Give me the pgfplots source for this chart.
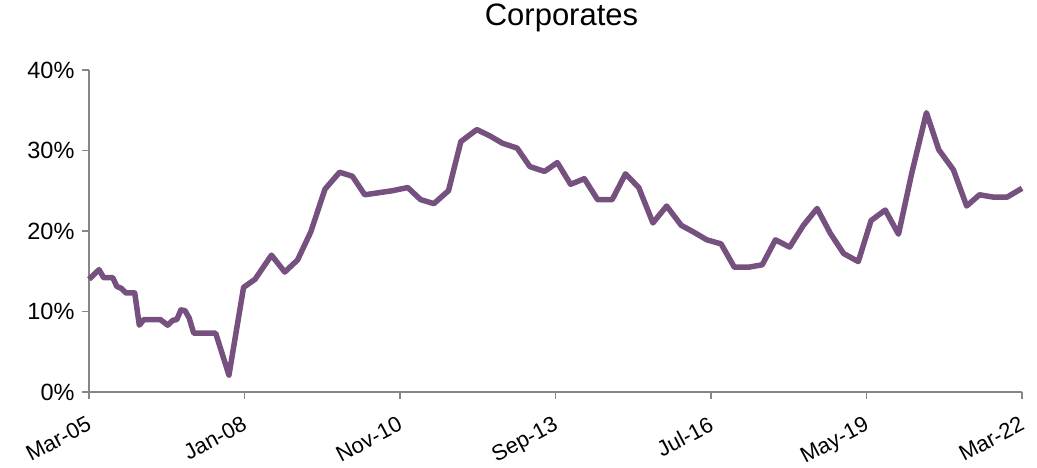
\documentclass[border=0pt]{standalone}
\usepackage{pgfplots}
\pgfplotsset{compat=1.18}
\usepackage{fontspec}
\setmainfont{Liberation Sans}
\definecolor{lineP}{RGB}{118,81,128}
\definecolor{axG}{RGB}{134,134,134}
\begin{document}
\begin{tikzpicture}
\begin{axis}[name=ax, scale only axis, width=933pt, height=322pt,
 xmin=0, xmax=204, ymin=0, ymax=40,
 axis x line=bottom, axis y line=left,
 axis line style={-, draw=axG, line width=1.6pt},
 tick style={draw=axG, line width=1.4pt}, tick align=outside, major tick length=7pt,
 xtick={0,34,68,102,136,170,204},
 xticklabels={Mar-05,Jan-08,Nov-10,Sep-13,Jul-16,May-19,Mar-22},
 ytick={0,10,20,30,40}, yticklabels={0\%,10\%,20\%,30\%,40\%},
 ticklabel style={font=\fontsize{23.5}{25}\selectfont, text=black},
 yticklabel style={xshift=-4pt},
 xticklabel style={font=\fontsize{22}{24}\selectfont, anchor=north east, inner sep=1pt, xshift=-3pt, yshift=-15pt, rotate=28},
 title={Corporates},
 title style={font=\fontsize{31}{34}\selectfont, at={(0.5,1)}, anchor=base, yshift=38pt, xshift=6pt},
 clip=false]
\addplot[lineP, line width=5.5pt, line join=round] coordinates {
(0,14.0) (2.2,15.2) (3.2,14.2) (5.2,14.2) (6.1,13.1) (7,12.9) (8.1,12.3) (10,12.3)
(11,8.3) (12,9.0) (15.6,9.0) (17.2,8.3) (18.3,8.9) (19.2,9.0) (20.1,10.2) (21,10.1)
(21.9,9.2) (22.9,7.3) (27.7,7.3) (30.6,2.1) (33.8,13.0) (36.3,14.0) (39.9,17.0)
(42.8,14.9) (45.6,16.4) (48.5,19.9) (51.6,25.2) (54.8,27.3) (57.6,26.8) (60.3,24.5)
(66.3,25.0) (69.7,25.4) (72.5,23.9) (75.4,23.4) (78.6,25.0) (81.3,31.1) (84.8,32.6)
(87.7,31.8) (90.4,30.9) (93.6,30.3) (96.4,28.0) (99.6,27.4) (102.4,28.5) (105.3,25.8)
(108.3,26.5) (111.2,23.9) (114.4,23.9) (117.3,27.1) (120.2,25.4) (123.3,21.0)
(126.3,23.1) (129.5,20.7) (132.1,19.9) (135.1,18.9) (138.2,18.4) (141.1,15.5)
(144.2,15.5) (147.2,15.8) (150.1,18.9) (153.2,18.0) (156.2,20.7) (159.2,22.8)
(162.1,19.7) (165,17.2) (168.2,16.2) (171,21.3) (174.1,22.6) (177,19.6) (179.9,27.2)
(183.1,34.7) (185.8,30.1) (189,27.6) (191.9,23.1) (194.7,24.5) (197.8,24.2)
(200.7,24.2) (204,25.3)
};
\end{axis}
\pgfresetboundingbox
\path (ax.south west) ++(-89pt,-76pt) coordinate (bl);
\path (ax.north east) ++(15pt,70pt) coordinate (tr);
\path (bl) rectangle (tr);
\end{tikzpicture}
\end{document}
